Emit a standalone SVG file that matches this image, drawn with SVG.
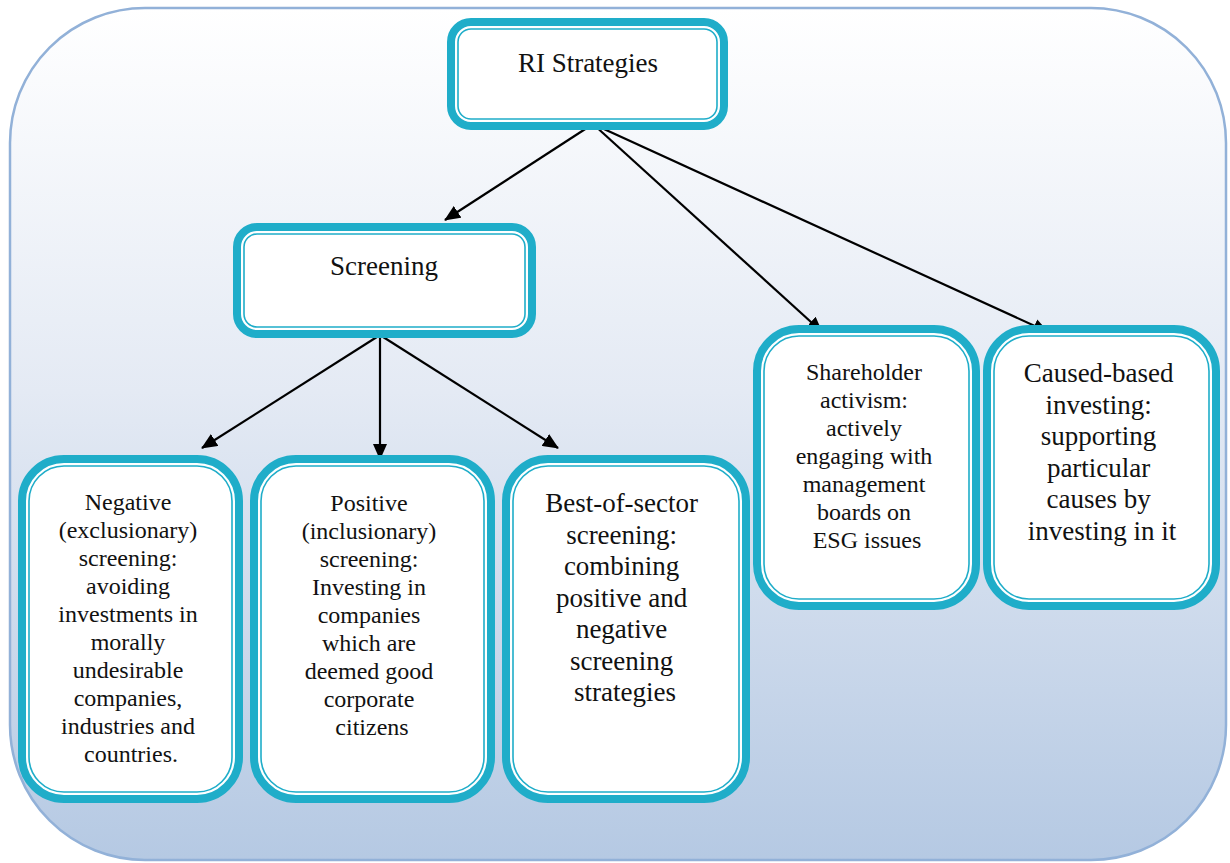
<svg xmlns="http://www.w3.org/2000/svg" width="1230" height="863" viewBox="0 0 1230 863">
<defs>
<linearGradient id="bg" x1="0" y1="0" x2="0" y2="1">
<stop offset="0" stop-color="#ffffff"/>
<stop offset="0.45" stop-color="#e4eaf4"/>
<stop offset="1" stop-color="#b5c9e3"/>
</linearGradient>
<marker id="ah" markerUnits="userSpaceOnUse" markerWidth="16" markerHeight="14" refX="15" refY="7" orient="auto">
<path d="M0,0 L16,7 L0,14 Z" fill="#000"/>
</marker>
<style>
.outer{fill:#ffffff;stroke:#1fadc9;stroke-width:8}
.inner{fill:none;stroke:#1fadc9;stroke-width:1.6}
.t{fill:#111;text-anchor:middle}
.s24{font-size:24px}
.s27{font-size:27px}
.c{stroke:#000;stroke-width:2.2;fill:none;marker-end:url(#ah)}
</style>
</defs>
<rect x="10" y="8" width="1216" height="852" rx="135" ry="135" fill="url(#bg)" stroke="#92b1d8" stroke-width="2.5"/>

<g id="connectors">
<line class="c" x1="593" y1="124" x2="445" y2="220"/>
<line class="c" x1="593" y1="124" x2="822" y2="332"/>
<line class="c" x1="593" y1="124" x2="1048" y2="332"/>
<line class="c" x1="380" y1="335" x2="202" y2="448"/>
<line class="c" x1="380" y1="335" x2="380" y2="459"/>
<line class="c" x1="380" y1="335" x2="558" y2="448"/>
</g>

<g id="ri">
<rect class="outer" x="451" y="22" width="273" height="104" rx="20"/>
<rect class="inner" x="458" y="29" width="259" height="90" rx="13"/>
<text class="t s27" font-family="Liberation Serif, Times New Roman, DejaVu Serif, serif" x="588" y="72">RI Strategies</text>
</g>

<g id="screening">
<rect class="outer" x="237" y="227" width="295" height="107" rx="20"/>
<rect class="inner" x="244" y="234" width="281" height="93" rx="13"/>
<text class="t s27" font-family="Liberation Serif, Times New Roman, DejaVu Serif, serif" x="384" y="275">Screening</text>
</g>

<g id="negative">
<rect class="outer" x="22" y="459" width="217" height="340" rx="42"/>
<rect class="inner" x="29" y="466" width="203" height="326" rx="35"/>
<text class="t s24" font-family="Liberation Serif, Times New Roman, DejaVu Serif, serif">
<tspan x="131" y="510">Negative</tspan>
<tspan x="131" y="538">(exclusionary)</tspan>
<tspan x="131" y="566">screening:</tspan>
<tspan x="131" y="594">avoiding</tspan>
<tspan x="131" y="622">investments in</tspan>
<tspan x="131" y="650">morally</tspan>
<tspan x="131" y="678">undesirable</tspan>
<tspan x="131" y="706">companies,</tspan>
<tspan x="131" y="734">industries and</tspan>
<tspan x="131" y="762">countries.</tspan>
</text>
</g>

<g id="positive">
<rect class="outer" x="254" y="459" width="237" height="340" rx="42"/>
<rect class="inner" x="261" y="466" width="223" height="326" rx="35"/>
<text class="t s24" font-family="Liberation Serif, Times New Roman, DejaVu Serif, serif">
<tspan x="372" y="511">Positive</tspan>
<tspan x="372" y="539">(inclusionary)</tspan>
<tspan x="372" y="567">screening:</tspan>
<tspan x="372" y="595">Investing in</tspan>
<tspan x="372" y="623">companies</tspan>
<tspan x="372" y="651">which are</tspan>
<tspan x="372" y="679">deemed good</tspan>
<tspan x="372" y="707">corporate</tspan>
<tspan x="372" y="735">citizens</tspan>
</text>
</g>

<g id="best">
<rect class="outer" x="506" y="459" width="240" height="340" rx="42"/>
<rect class="inner" x="513" y="466" width="226" height="326" rx="35"/>
<text class="t s27" font-family="Liberation Serif, Times New Roman, DejaVu Serif, serif">
<tspan x="625" y="512">Best-of-sector</tspan>
<tspan x="625" y="543.5">screening:</tspan>
<tspan x="625" y="575">combining</tspan>
<tspan x="625" y="606.5">positive and</tspan>
<tspan x="625" y="638">negative</tspan>
<tspan x="625" y="669.5">screening</tspan>
<tspan x="625" y="701">strategies</tspan>
</text>
</g>

<g id="shareholder">
<rect class="outer" x="757" y="329" width="219" height="277" rx="42"/>
<rect class="inner" x="764" y="336" width="205" height="263" rx="35"/>
<text class="t s24" font-family="Liberation Serif, Times New Roman, DejaVu Serif, serif">
<tspan x="867" y="380">Shareholder</tspan>
<tspan x="867" y="408">activism:</tspan>
<tspan x="867" y="436">actively</tspan>
<tspan x="867" y="464">engaging with</tspan>
<tspan x="867" y="492">management</tspan>
<tspan x="867" y="520">boards on</tspan>
<tspan x="867" y="548">ESG issues</tspan>
</text>
</g>

<g id="caused">
<rect class="outer" x="987" y="329" width="229" height="277" rx="42"/>
<rect class="inner" x="994" y="336" width="215" height="263" rx="35"/>
<text class="t s27" font-family="Liberation Serif, Times New Roman, DejaVu Serif, serif">
<tspan x="1102" y="382">Caused-based</tspan>
<tspan x="1102" y="413.5">investing:</tspan>
<tspan x="1102" y="445">supporting</tspan>
<tspan x="1102" y="476.5">particular</tspan>
<tspan x="1102" y="508">causes by</tspan>
<tspan x="1102" y="539.5">investing in it</tspan>
</text>
</g>
</svg>
